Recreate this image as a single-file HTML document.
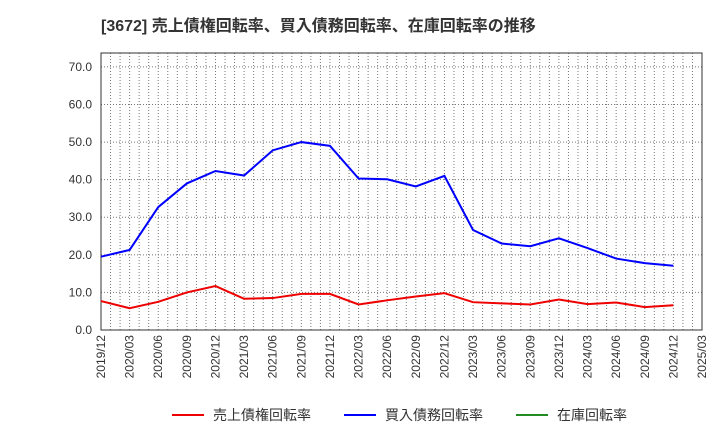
<!DOCTYPE html>
<html><head><meta charset="utf-8"><style>
body{margin:0;background:#fff;font-family:"Liberation Sans","Noto Sans CJK JP",sans-serif}
</style></head><body>
<svg width="720" height="440" id="c" xmlns="http://www.w3.org/2000/svg">
<text x="101" y="31" font-size="16" font-weight="bold" fill="#333" font-family="Liberation Sans, Noto Sans CJK JP, sans-serif">[3672]  売上債権回転率、買入債務回転率、在庫回転率の推移</text>
<g id="grid"></g><g id="axes"></g><g id="series"></g>
<g font-size="14" fill="#333">
<g><line x1="172" y1="415" x2="204" y2="415" stroke="#e00" stroke-width="2"/><text x="213" y="420">売上債権回転率</text></g>
<g><line x1="344" y1="415" x2="376" y2="415" stroke="#00f" stroke-width="2"/><text x="385" y="420">買入債務回転率</text></g>
<g><line x1="516" y1="415" x2="548" y2="415" stroke="#228b22" stroke-width="2"/><text x="557" y="420">在庫回転率</text></g>
</g>
</svg>
<script>
const categories=["2019/12","2020/03","2020/06","2020/09","2020/12","2021/03","2021/06","2021/09","2021/12","2022/03","2022/06","2022/09","2022/12","2023/03","2023/06","2023/09","2023/12","2024/03","2024/06","2024/09","2024/12","2025/03"];
const payables=[19.5,21.3,32.7,39,42.3,41.1,47.8,50,49,40.3,40.1,38.2,41,26.6,23,22.3,24.4,21.8,19,17.8,17.1];
const receivables=[7.7,5.8,7.5,10,11.7,8.3,8.5,9.6,9.6,6.8,7.9,8.9,9.8,7.4,7.1,6.8,8.1,6.9,7.3,6.1,6.6];
const yTicks=[0,10,20,30,40,50,60,70];
const L=101,R=702,T=53,B=330,yMax=73.7;
const xs=i=>L+(R-L)*i/(categories.length-1);
const ys=v=>B-(B-T)*v/yMax;
const NS="http://www.w3.org/2000/svg";
function mk(p,t,a){const e=document.createElementNS(NS,t);for(const k in a)e.setAttribute(k,a[k]);p.appendChild(e);return e;}
const g=document.getElementById('grid'),ax=document.getElementById('axes'),s=document.getElementById('series');
const months=(categories.length-1)*3;
for(let m=1;m<months;m++){const x=L+(R-L)*m/months;
const l=mk(g,'line',{x1:x,x2:x,y1:T,y2:B,stroke:'#777','stroke-dasharray':'1,2','stroke-width':1});

}
yTicks.forEach(v=>{const y=ys(v);
if(v>0){const l=mk(g,'line',{x1:L,x2:R,y1:y,y2:y,stroke:'#777','stroke-dasharray':'1,2'});

}
const t=mk(ax,'text',{x:L-9,y:y+4,'text-anchor':'end','font-size':12,fill:'#333'});t.textContent=v.toFixed(1);

});
categories.forEach((c,i)=>{const x=xs(i);
const t=mk(ax,'text',{transform:`translate(${x+4},${B+5}) rotate(-90)`,'text-anchor':'end','font-size':12,fill:'#333'});t.textContent=c;

});
const box=mk(ax,'rect',{x:L,y:T,width:R-L,height:B-T,fill:'none',stroke:'#333'});


function line(d,col,name){const p=mk(s,'polyline',{points:d.map((v,i)=>xs(i)+','+ys(v)).join(' '),fill:'none',stroke:col,'stroke-width':2});

}
line(receivables,'#e00','receivables-line');
line(payables,'#00f','payables-line');
</script>
</body></html>
